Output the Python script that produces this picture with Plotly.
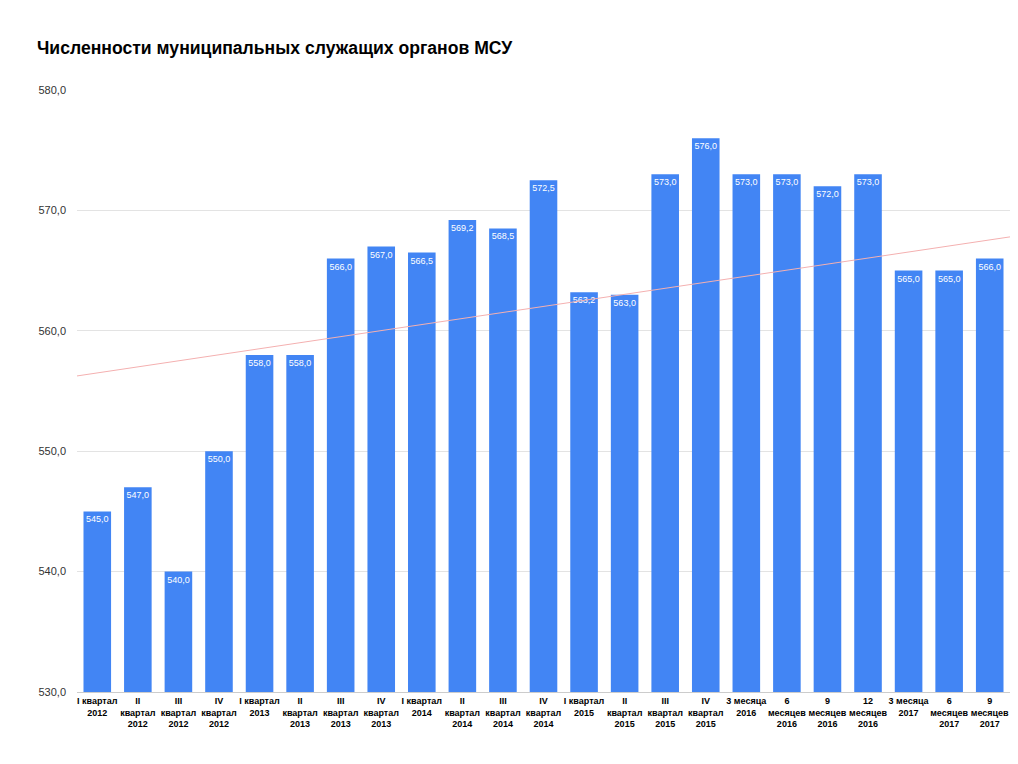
import plotly.graph_objects as go

# periods and headcount values
periods = [
    "I квартал<br>2012", "II<br>квартал<br>2012", "III<br>квартал<br>2012", "IV<br>квартал<br>2012",
    "I квартал<br>2013", "II<br>квартал<br>2013", "III<br>квартал<br>2013", "IV<br>квартал<br>2013",
    "I квартал<br>2014", "II<br>квартал<br>2014", "III<br>квартал<br>2014", "IV<br>квартал<br>2014",
    "I квартал<br>2015", "II<br>квартал<br>2015", "III<br>квартал<br>2015", "IV<br>квартал<br>2015",
    "3 месяца<br>2016", "6<br>месяцев<br>2016", "9<br>месяцев<br>2016", "12<br>месяцев<br>2016",
    "3 месяца<br>2017", "6<br>месяцев<br>2017", "9<br>месяцев<br>2017",
]
staff = [545.0, 547.0, 540.0, 550.0, 558.0, 558.0, 566.0, 567.0, 566.5, 569.2, 568.5, 572.5,
         563.2, 563.0, 573.0, 576.0, 573.0, 573.0, 572.0, 573.0, 565.0, 565.0, 566.0]

# trend line ends (left edge / right edge of the plot), as drawn on the chart
trend_ends = [556.25, 567.8]

x_idx = list(range(len(periods)))

fig = go.Figure()

fig.add_trace(go.Bar(
    x=x_idx, y=staff,
    marker=dict(color="#4285F4", line=dict(width=0)),
    text=[f"{v:.1f}".replace(".", ",") for v in staff],
    textposition="inside",
    insidetextanchor="end",
    textangle=0,
    constraintext="none",
    textfont=dict(color="white", size=9, family="Liberation Sans, Arial"),
    showlegend=False,
))

fig.add_trace(go.Scatter(
    x=[-0.5, len(periods) - 0.5], y=trend_ends,
    mode="lines",
    line=dict(color="#F4B0B0", width=1),
    showlegend=False,
    cliponaxis=False,
))

# page puts the figure 8px in from the corner, so size/margins are shifted by 8
fig.update_layout(
    width=1002, height=748,
    paper_bgcolor="white", plot_bgcolor="white",
    margin=dict(l=69, r=0, t=82, b=64),
    bargap=0.32,
    font=dict(family="Liberation Sans, Arial", color="#222222"),
    title=dict(
        text="<b>Численности муниципальных служащих органов МСУ</b>",
        font=dict(size=17.6, color="black"),
        x=29 / 1002, xanchor="left", xref="container",
        y=1 - 40 / 748, yanchor="middle", yref="container",
    ),
    separators=", ",
    xaxis=dict(
        tickmode="array", tickvals=x_idx,
        ticktext=[f"<b>{p}</b>" for p in periods],
        range=[-0.5, len(periods) - 0.5],
        tickangle=0,
        tickfont=dict(size=9, color="black"),
        showgrid=False, zeroline=False,
        showline=True, linecolor="#cccccc", linewidth=1,
        ticks="",
    ),
    yaxis=dict(
        range=[530, 580],
        tickvals=[530, 540, 550, 560, 570, 580],
        tickformat=".1f",
        tickfont=dict(size=11, color="#333333"),
        gridcolor="#e3e3e3", gridwidth=1,
        zeroline=False, showline=False,
        ticks="", ticklabelstandoff=10,
    ),
)

fig.write_html("out.html")
